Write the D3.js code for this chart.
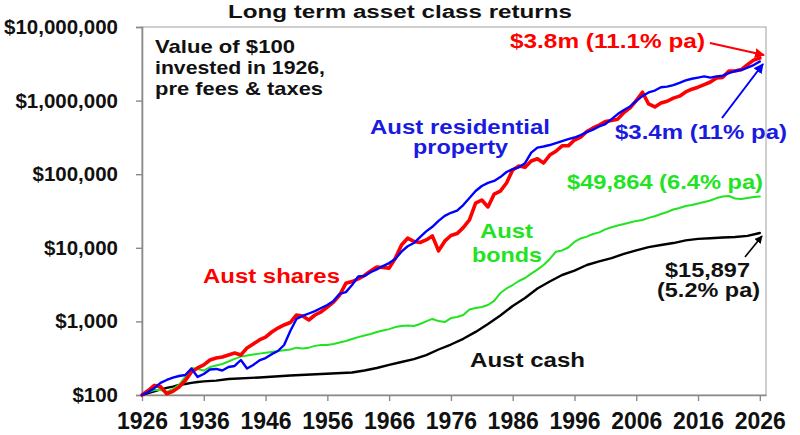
<!DOCTYPE html>
<html><head><meta charset="utf-8">
<script src="https://cdn.jsdelivr.net/npm/d3@7"></script>
<style>
body{margin:0;background:#fff}
svg{display:block}
text{font-family:"Liberation Sans",Arial,sans-serif;font-weight:bold}
</style>
</head><body><svg id="c" width="800" height="435"></svg>
<script>
const years = [
1926,1927,1928,1929,1930,1931,1932,1933,1934,1935,
1936,1937,1938,1939,1940,1941,1942,1943,1944,1945,
1946,1947,1948,1949,1950,1951,1952,1953,1954,1955,
1956,1957,1958,1959,1960,1961,1962,1963,1964,1965,
1966,1967,1968,1969,1970,1971,1972,1973,1974,1975,
1976,1977,1978,1979,1980,1981,1982,1983,1984,1985,
1986,1987,1988,1989,1990,1991,1992,1993,1994,1995,
1996,1997,1998,1999,2000,2001,2002,2003,2004,2005,
2006,2007,2008,2009,2010,2011,2012,2013,2014,2015,
2016,2017,2018,2019,2020,2021,2022,2023,2024,2025,
2026];
const sharesValues = [
100,115,135,130,104,112,128,157,205,233,
256,299,318,328,349,372,349,436,492,559,
612,718,812,894,965,1222,1185,1045,1222,1350,
1570,1830,2285,3290,3480,3780,4200,4850,5480,5400,
5300,7200,10900,13500,12200,11800,12800,14500,9100,12300,
14700,15600,18800,23900,40500,44600,35900,53600,59000,76000,
114000,129000,124000,151000,162000,142000,182000,205000,243000,243000,
291000,318000,380000,425000,465000,520000,535000,560000,690000,800000,
1000000,1300000,900000,820000,930000,980000,1080000,1150000,1310000,1430000,
1520000,1650000,1790000,2030000,2070000,2520000,2520000,2640000,3080000,3550000,
3800000];
const propertyValues = [
100,110,124,146,160,172,181,187,229,176,
193,222,226,215,240,248,299,229,256,295,
318,359,396,478,740,1080,1185,1280,1380,1520,
1670,1900,2370,2500,3120,4070,4130,4650,5080,5650,
6200,7060,8850,10500,11600,14000,16700,19300,23200,27100,
29900,31900,38100,47400,59100,69200,76100,81000,91400,107000,
117500,124000,141000,196000,230000,238000,249000,265000,282000,300000,
315000,340000,373000,404000,445000,480000,560000,656000,744000,830000,
990000,1150000,1290000,1370000,1520000,1550000,1620000,1740000,1880000,1980000,
2050000,2130000,2050000,2130000,2180000,2360000,2520000,2600000,2800000,3040000,
3400000];
const bondsValues = [
100,110,117,117,110,120,137,176,233,226,
215,240,252,264,285,310,332,345,355,365,
375,385,395,405,415,440,428,440,465,478,
478,493,517,541,576,612,644,674,718,750,
786,837,866,880,866,922,1000,1080,1010,980,
1110,1150,1220,1450,1520,1570,1670,1900,2430,2800,
3120,3540,3890,4450,5050,5840,7060,8850,9200,10100,
12000,13400,14200,15400,16200,17800,19000,20100,21000,22100,
23200,23850,25500,26800,28800,30700,33100,34800,37000,38100,
40000,41900,43900,47400,49700,50500,46800,46000,47400,48900,
49864];
const cashYears = [1926,1927,1928,1929,1930,1931,1932,1933,1934,1935,1936,1938,1940,1945,1950,1955,1960,1962,1964,1966,1968,1970,1972,1974,1976,1978,1980,1982,1984,1986,1988,1990,1992,1994,1996,1998,2000,2002,2004,2006,2008,2010,2012,2014,2016,2018,2020,2022,2024,2026];
const cashValues = [100,106,112,119,125,130,137,141,146,150,153,157,165,173,184,193,202,215,233,256,281,308,349,415,485,580,720,920,1200,1620,2080,2800,3480,4270,4900,5840,6550,7260,8260,9200,10200,10900,11600,12600,13200,13500,13800,14000,14500,15897];

const yTickValues = [100,1000,10000,100000,1000000,10000000];
const yTickLabels = ["$100","$1,000","$10,000","$100,000","$1,000,000","$10,000,000"];
const xTickValues = [1926,1936,1946,1956,1966,1976,1986,1996,2006,2016,2026];
const xTickLabels = ["1926","1936","1946","1956","1966","1976","1986","1996","2006","2016","2026"];

const svg = d3.select("#c");
const L = 142, R = 766, T = 27, B = 395;
const x = d3.scaleLinear().domain([1926, 2027]).range([L, R]);
const y = d3.scaleLog().domain([100, 10000000]).range([B, T]);

const RED = "#ff0000", BLUE = "#0000ff", GREEN = "#22e322", BLACK = "#000000", GRAY = "#8a8a8a";

// frame
svg.append("rect").attr("x", L).attr("y", T).attr("width", R - L).attr("height", B - T)
  .attr("fill", "none").attr("stroke", "#b0b0b0").attr("stroke-width", 1.2);

// axes
const yAxis = d3.axisLeft(y).tickValues(yTickValues).tickFormat((d, i) => yTickLabels[i])
  .tickSize(6).tickPadding(18);
const gy = svg.append("g").attr("transform", `translate(${L},0)`).call(yAxis);
gy.select(".domain").attr("stroke", GRAY).attr("stroke-width", 1.6);
gy.selectAll(".tick line").attr("stroke", GRAY).attr("stroke-width", 1.4);
gy.selectAll(".tick text").attr("font-size", 20.5).attr("fill", "#111")
  .attr("font-family", '"Liberation Sans",Arial,sans-serif').attr("font-weight", "bold");

const xAxis = d3.axisBottom(x).tickValues(xTickValues).tickFormat((d, i) => xTickLabels[i])
  .tickSize(6).tickPadding(12).tickSizeOuter(0);
const gx = svg.append("g").attr("transform", `translate(0,${B})`).call(xAxis);
gx.select(".domain").attr("stroke", GRAY).attr("stroke-width", 1.6);
gx.selectAll(".tick line").attr("stroke", GRAY).attr("stroke-width", 1.4);
gx.selectAll(".tick text").attr("font-size", 23).attr("fill", "#111")
  .attr("font-family", '"Liberation Sans",Arial,sans-serif').attr("font-weight", "bold");

// lines
const line = d3.line().x(d => x(d[0])).y(d => y(d[1]));
const series = [
  {yrs: cashYears, vals: cashValues, color: BLACK, w: 2.4},
  {yrs: years, vals: bondsValues, color: GREEN, w: 2},
  {yrs: years, vals: sharesValues, color: RED, w: 3.6},
  {yrs: years, vals: propertyValues, color: BLUE, w: 2.4}
];
series.forEach(s => {
  svg.append("path").datum(s.yrs.map((yr, i) => [yr, s.vals[i]]))
    .attr("d", line).attr("fill", "none").attr("stroke", s.color)
    .attr("stroke-width", s.w).attr("stroke-linejoin", "round").attr("stroke-linecap", "round");
});

// text helper
function label(str, x0, base, width, size, color) {
  svg.append("text").attr("x", x0).attr("y", base).attr("font-size", size)
    .attr("fill", color).attr("textLength", width).attr("lengthAdjust", "spacingAndGlyphs")
    .text(str);
}
label("Long term asset class returns", 228, 18, 344, 18, "#111");
label("Value of $100", 155, 53, 140, 19, "#111");
label("invested in 1926,", 155, 74, 170, 19, "#111");
label("pre fees & taxes", 155, 95, 168, 19, "#111");
label("$3.8m (11.1% pa)", 510, 48, 195, 20, RED);
label("Aust residential", 370, 134, 180, 20, "#1a1ae0");
label("property", 413, 154, 95, 20, "#1a1ae0");
label("$3.4m (11% pa)", 615, 139, 172, 20, "#1a1ae0");
label("$49,864 (6.4% pa)", 567, 189, 196, 20, GREEN);
label("Aust", 480, 238, 53, 20, GREEN);
label("bonds", 472, 262, 70, 20, GREEN);
label("Aust shares", 203, 283, 137, 20, RED);
label("Aust cash", 470, 367, 115, 20, "#111");
label("$15,897", 665, 277, 85, 20, "#111");
label("(5.2% pa)", 657, 297, 103, 20, "#111");

// arrows
const defs = svg.append("defs");
function arrow(id, color, x1, y1, x2, y2, w) {
  defs.append("marker").attr("id", id).attr("viewBox", "0 0 10 10").attr("refX", 9).attr("refY", 5)
    .attr("markerWidth", 5).attr("markerHeight", 5).attr("orient", "auto")
    .append("path").attr("d", "M0,0 L10,5 L0,10 z").attr("fill", color);
  svg.append("line").attr("x1", x1).attr("y1", y1).attr("x2", x2).attr("y2", y2)
    .attr("stroke", color).attr("stroke-width", w).attr("marker-end", `url(#${id})`);
}
arrow("ar", RED, 710, 43, 764, 55, 2);
arrow("ab", BLUE, 722, 118, 763, 64, 2);
arrow("ak", BLACK, 745, 257, 762, 236, 1.6);
</script>
</body></html>
